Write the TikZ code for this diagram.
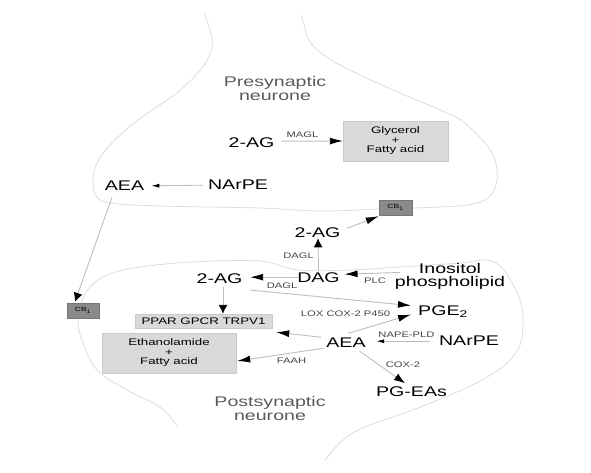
\documentclass[tikz,border=0pt]{standalone}
\usepackage{fontspec}
\setmainfont{Liberation Sans}[FakeStretch=1.4]
\usetikzlibrary{arrows.meta}
\definecolor{outl}{HTML}{DCDCDC}
\definecolor{connc}{HTML}{BDBDBD}
\definecolor{boxf}{HTML}{D9D9D9}
\definecolor{boxd}{HTML}{CACACA}
\definecolor{cbf}{HTML}{8A8A8A}
\definecolor{cbd}{HTML}{767676}
\definecolor{lbl}{HTML}{444444}
\definecolor{ttl}{HTML}{5A5A5A}
\begin{document}
\begin{tikzpicture}[x=1pt,y=-1pt,
  mol/.style={font=\fontsize{14}{16}\selectfont, inner sep=1pt, anchor=base},
  enz/.style={font=\fontsize{8}{9}\selectfont, text=lbl, inner sep=0pt, anchor=base},
  ttlx/.style={font=\fontsize{14}{14}\selectfont, text=ttl, align=center, inner sep=0pt, anchor=north},
  prod/.style={draw=boxd, fill=boxf, font=\fontsize{9.5}{9.5}\selectfont, align=center, inner sep=0pt},
  cb/.style={draw=cbd, fill=cbf, font=\fontsize{6}{6}\selectfont, inner sep=0pt, minimum width=33pt, minimum height=15pt},
  memb/.style={draw=outl, line width=0.8pt},
  conn/.style={draw=connc, line width=0.9pt},
  arrH/.style={-{Latex[length=13pt,width=7pt,color=black]}},
  arrV/.style={-{Latex[length=9pt,width=9pt,color=black]}},
  arrD/.style={-{Latex[length=11pt,width=8pt,color=black]}},
  arrS/.style={-{Latex[length=8pt,width=4pt,color=black]}}
]
\useasboundingbox (0,0) rectangle (591,472);
% membranes
\draw[memb] plot[smooth, tension=0.6] coordinates {(204,13) (210,30) (212,47) (202,68) (178,92) (138,120) (110,145) (96,165) (93,185) (97,197) (110,203) (160,206) (260,208) (320,211) (380,209) (440,207) (473,204) (490,196) (497,180) (495,160) (485,143) (462,121) (440,110) (400,93) (360,75) (328,58) (310,42) (304,25) (301,15)};
\draw[memb] plot[smooth, tension=0.6] coordinates {(178,427) (160,407) (127,390) (97,370) (83,343) (78,322) (82,300) (92,285) (110,274) (140,267) (193,262) (260,261) (298,270) (350,270) (400,267) (460,263) (485,260) (500,266) (512,283) (521,303) (523,325) (520,345) (507,363) (482,380) (450,395) (410,411) (365,427) (343,440) (325,460)};

% titles
\node[ttlx] (preT) at (275,76) {Presynaptic\\neurone};
\node[ttlx] (postT) at (270,396) {Postsynaptic\\neurone};

% presynaptic
\node[mol] (agPre) at (251.5,147) {2-AG};
\node[prod, minimum width=105pt, minimum height=40pt] (glyc) at (395.5,141) {Glycerol\\+\\Fatty acid};
\node[mol] (aeaPre) at (124.5,190) {AEA};
\node[mol] (narpePre) at (238,189) {NArPE};
\node[cb] (cbU) at (395.5,207.5) {CB\textsubscript{1}};
\node[cb, minimum width=32pt] (cbL) at (83,310.5) {CB\textsubscript{1}};

% postsynaptic
\node[mol] (agMid) at (317.5,237) {2-AG};
\node[mol] (dag) at (318.5,282) {DAG};
\node[font=\fontsize{14}{13.5}\selectfont, align=center, inner sep=0pt, anchor=north] (inos) at (450,263) {Inositol\\phospholipid};
\node[mol] (agL) at (219.5,283) {2-AG};
\node[prod, minimum width=137pt, minimum height=14pt] (ppar) at (203.5,321) {PPAR GPCR TRPV1};
\node[prod, minimum width=134pt, minimum height=40pt] (etha) at (169,353) {Ethanolamide\\+\\Fatty acid};
\node[mol, anchor=base west] (pge) at (417,315) {PGE\textsubscript{2}};
\node[mol] (aeaP) at (346,347) {AEA};
\node[mol] (narpeP) at (469,345) {NArPE};
\node[mol] (pgea) at (411.5,396) {PG-EAs};

% enzyme labels
\node[enz] (magl) at (302.5,137) {MAGL};
\node[enz] (daglU) at (298.5,258) {DAGL};
\node[enz] (daglL) at (282,288) {DAGL};
\node[enz] (plc) at (375,283) {PLC};
\node[enz] (lox) at (345.5,316) {LOX COX-2 P450};
\node[enz] (napld) at (406.5,337) {NAPE-PLD};
\node[enz] (faah) at (291.5,363) {FAAH};
\node[enz] (cox) at (403,367) {COX-2};

% connectors
\draw[conn,arrH] ([shift={(6,-1)}]agPre.east) -- (glyc.west);
\draw[conn,arrS] ([shift={(-4,1)}]narpePre.west) -- ([shift={(6,0.6)}]aeaPre.east);
\draw[conn,arrV] ([shift={(-12.5,6)}]aeaPre.south) -- ([shift={(-8,-1)}]cbL.north);
\draw[conn,arrH] ([shift={(5.6,-4)}]agMid.east) -- ([shift={(0,1)}]cbU.south west);
\draw[conn,arrV] (dag.north) -- ([xshift=0.5pt]agMid.south);
\draw[conn,arrH] ([shift={(5,-4)}]inos.west) -- ([shift={(3.6,-3)}]dag.east);
\draw[conn,arrH] ([shift={(2,0)}]dag.west) -- ([shift={(6.6,-1)}]agL.east);
\draw[conn,arrV] ([shift={(3.5,3)}]agL.south) -- ([xshift=19.5pt]ppar.north);
\draw[conn,arrH] ([shift={(6.6,5.7)}]agL.south east) -- ([shift={(-6,-5.6)}]pge.west);
\draw[conn,arrH] ([shift={(2,-2.8)}]aeaP.north) -- ([shift={(-6,3.4)}]pge.west);
\draw[conn,arrS] ([shift={(-8,1)}]narpeP.west) -- ([shift={(9.4,-1)}]aeaP.east);
\draw[conn,arrH] ([shift={(-4.4,-5)}]aeaP.west) -- ([shift={(4,4)}]ppar.south east);
\draw[conn,arrH] ([shift={(-1.4,0)}]aeaP.south west) -- ([shift={(1,8)}]etha.east);
\draw[conn,arrD] ([shift={(-7.6,2.7)}]aeaP.south east) -- ([shift={(-6.5,-1.8)}]pgea.north);
\end{tikzpicture}
\end{document}
